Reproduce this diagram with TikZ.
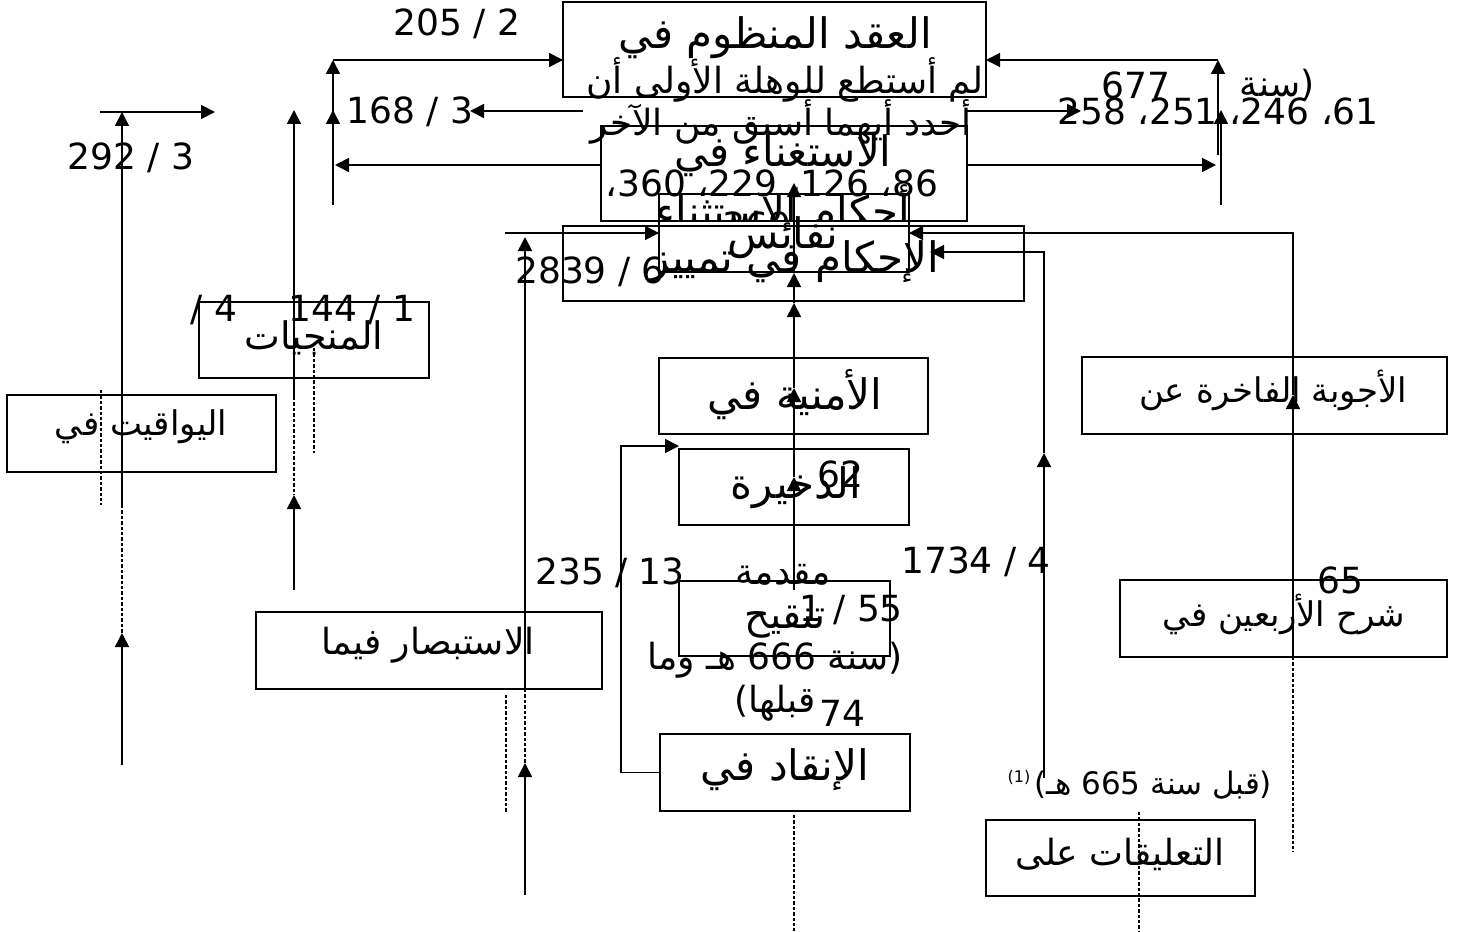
\documentclass[tikz,border=0pt]{standalone}
\usepackage{fontspec}
\setmainfont{DejaVu Sans}
\newfontfamily\arfont[Script=Arabic]{DejaVu Sans}
\TeXXeTstate=1
\usetikzlibrary{arrows.meta}
\newcommand{\AR}[1]{{\arfont\beginR #1\endR}}
\begin{document}
\begin{tikzpicture}[x=0.5pt,y=-0.5pt,
  box/.style={draw,line width=0.9pt,inner sep=0pt,outer sep=0pt},
  lbl/.style={inner sep=0pt,font=\fontsize{18}{21}\selectfont},
  ttl/.style={inner sep=0pt,font=\fontsize{21}{24}\selectfont},
  fs/.style={inner sep=0pt,font=\fontsize{#1}{#1}\selectfont},
  arr/.style={line width=0.85pt,-{Triangle[length=7pt,width=7pt]}},
  dsh/.style={line width=0.85pt,dash pattern=on 1.7pt off 1pt}]
\fill[white] (0,0) rectangle (1466,931);
\useasboundingbox (0,0) rectangle (1466,931);

% boxes
\node[box,minimum width=211.5pt,minimum height=47.5pt] (b1) at (774.5,49.5) {};
\node[box,minimum width=183pt,minimum height=47.5pt] (b2) at (784,173.5) {};
\node[box,minimum width=125pt,minimum height=39pt] (b3) at (784,233) {};
\node[box,minimum width=230.5pt,minimum height=37.5pt] (b4) at (793.5,263.5) {};
\node[box,minimum width=115pt,minimum height=38pt] (b5) at (314,340) {};
\node[box,minimum width=134.5pt,minimum height=38.5pt] (b6) at (141.5,433.5) {};
\node[box,minimum width=173pt,minimum height=38.5pt] (b7) at (429,650.5) {};
\node[box,minimum width=134.5pt,minimum height=38pt] (b8) at (793.5,396) {};
\node[box,minimum width=115pt,minimum height=38pt] (b9) at (794,487) {};
\node[box,minimum width=105.5pt,minimum height=37.5pt] (b10) at (784.5,618.5) {};
\node[box,minimum width=125pt,minimum height=38.5pt] (b11) at (785,772.5) {};
\node[box,minimum width=134.5pt,minimum height=38pt] (b12) at (1120.5,858) {};
\node[box,minimum width=182.5pt,minimum height=38.5pt] (b13) at (1264.5,395.5) {};
\node[box,minimum width=163.5pt,minimum height=38.5pt] (b14) at (1283.5,618.5) {};

% texts
\node[lbl] (t205) at (457,24) {205 / 2};
\node[ttl] (tb1) at (775,38) {\AR{العقد المنظوم في}};
\node[lbl] (tn1) at (785,80) {\AR{لم أستطع للوهلة الأولى أن}};
\node[lbl] (tn2) at (781,122) {\AR{أحدد أيهما أسبق من الآخر}};
\node[lbl] (t168) at (410,112) {168 / 3};
\node[lbl] (t292) at (131,158) {292 / 3};
\node[lbl] (t677) at (1136,85) {677};
\node[lbl] (tsana) at (1277,85) {\AR{سنة})};
\node[lbl] (tnums) at (1218,111) {\AR{61، 246، 251، 258}};
\node[ttl] (tb2) at (783,156) {\AR{الاستغناء في}};
\node[lbl] (tnums2) at (772,183) {\AR{86، 126، 229، 360،}};
\begin{scope}
  \clip (b2.north west) rectangle (b2.south east);
  \node[ttl,anchor=base] (tb2b) at (783,226) {\AR{أحكام الاستثناء}};
\end{scope}
\begin{scope}
  \clip (700,150) rectangle (830,221);
  \node[lbl,anchor=base] (t369) at (757,238) {369};
\end{scope}
\node[ttl] (tb3) at (783,238) {\AR{نفائس}};
\node[ttl] (tb4) at (794,262) {\AR{الإحكام في تمييز}};
\node[lbl] (t2839) at (590,272) {2839 / 6};
\node[lbl] (t4) at (214,310) {/ 4};
\node[lbl] (t144) at (352,310) {144 / 1};
\node[fs=19] (tb5) at (314,338) {\AR{المنجيات}};
\node[fs=17] (tb6) at (141,427) {\AR{اليواقيت في}};
\node[ttl] (tb8) at (795,395) {\AR{الأمنية في}};
\node[fs=17] (tb13) at (1273,390) {\AR{الأجوبة الفاخرة عن}};
\node[ttl] (tb9) at (796,488) {\AR{الذخيرة}};
\node[lbl] (t62) at (840,474) {62};
\node[lbl] (t235) at (610,573) {235 / 13};
\node[lbl] (tmuq) at (783,575) {\AR{مقدمة}};
\node[lbl] (t155) at (851,610) {1 / 55};
\node[fs=20] (tb10) at (785,622) {\AR{تنقيح}};
\node[lbl] (t1734) at (976,562) {1734 / 4};
\node[lbl] (t65) at (1340,580) {65};
\node[fs=17] (tb14) at (1284,614) {\AR{شرح الأربعين في}};
\node[fs=18] (tb7) at (428,645) {\AR{الاستبصار فيما}};
\node[lbl] (t666) at (775,660) {\AR{سنة 666 هـ وما})};
\node[lbl] (tqb) at (775,703) {(\AR{قبلها}};
\node[lbl] (t74) at (842,713) {74};
\node[ttl] (tb11) at (785,770) {\AR{الإنقاد في}};
\node[fs=15.5] (t665) at (1153,785) {(\AR{قبل سنة 665 هـ})};
\node[fs=8] (tsup) at (1019,777) {(1)};
\node[fs=18] (tb12) at (1120,854) {\AR{التعليقات على}};

% connectors: top left
\coordinate (L1) at (333,205);
\coordinate (L1t) at (333,60);
\coordinate (L1m) at (333,110);
\draw[arr] (L1) -- (L1t);
\draw[arr] (L1t) -- (L1t -| b1.west);
\draw[arr] (L1) -- (L1m);
% top right
\coordinate (R1) at (1218,155);
\coordinate (R1t) at (1218,60);
\coordinate (R2) at (1221,205);
\coordinate (R2t) at (1221,110);
\draw[arr] (R1) -- (R1t);
\draw[arr] (R1t) -- (R1t -| b1.east);
\draw[arr] (R2) -- (R2t);
% y=111
\coordinate (A1s) at (583,111);
\coordinate (A1e) at (470,111);
\coordinate (A2s) at (966,111);
\coordinate (A2e) at (1081,111);
\draw[arr] (A1s) -- (A1e);
\draw[arr] (A2s) -- (A2e);
% y=165
\coordinate (A3) at (335,165);
\coordinate (A4) at (1216,165);
\draw[arr] (A3 -| b2.west) -- (A3);
\draw[arr] (A4 -| b2.east) -- (A4);
% x=122
\coordinate (K1) at (100,112);
\coordinate (K2) at (215,112);
\coordinate (K3) at (122,112);
\coordinate (K4) at (122,505);
\coordinate (K5) at (122,633);
\coordinate (K6) at (122,765);
\coordinate (K7) at (101,390);
\coordinate (K8) at (101,505);
\draw[arr] (K1) -- (K2);
\draw[arr] (K4) -- (K3);
\draw[dsh] (K4) -- (K5);
\draw[arr] (K6) -- (K5);
\draw[dsh] (K7) -- (K8);
% x=294
\coordinate (M1) at (294,110);
\coordinate (M2) at (294,397);
\coordinate (M3) at (294,495);
\coordinate (M4) at (294,590);
\coordinate (M5) at (314,348);
\coordinate (M6) at (314,453);
\draw[arr] (M2) -- (M1);
\draw[dsh] (M2) -- (M3);
\draw[arr] (M4) -- (M3);
\draw[dsh] (M5) -- (M6);
% x=525
\coordinate (N0) at (505,233);
\coordinate (N1) at (525,237);
\coordinate (N2) at (525,689);
\coordinate (N3) at (525,763);
\coordinate (N4) at (525,895);
\coordinate (N5) at (506,695);
\coordinate (N6) at (506,812);
\draw[arr] (N0) -- (N0 -| b3.west);
\draw[arr] (N2) -- (N1);
\draw[dsh] (N2) -- (N3);
\draw[arr] (N4) -- (N3);
\draw[dsh] (N5) -- (N6);
% centre x=794
\coordinate (C0) at (794,590);
\coordinate (C1) at (794,477);
\coordinate (C2) at (794,388);
\coordinate (C3) at (794,303);
\coordinate (C4) at (794,273);
\coordinate (C5) at (794,183);
\coordinate (C6) at (794,815);
\coordinate (C7) at (794,931);
\draw[arr] (C0) -- (C1);
\draw[arr] (C1) -- (C2);
\draw[arr] (C2) -- (C3);
\draw[arr] (C3) -- (C4);
\draw[arr] (C4) -- (C5);
\draw[dsh] (C6) -- (C7);
% loop from b11 to b9
\coordinate (Q1) at (621,446);
\draw[arr] (b11.west) -| (Q1) -- (Q1 -| b9.west);
% x=1044
\coordinate (E1) at (1044,778);
\coordinate (E2) at (1044,453);
\coordinate (E3) at (1044,252);
\coordinate (E4) at (930,252);
\draw[arr] (E1) -- (E2);
\draw[arr] (E2) -- (E3) -- (E4);
% x=1293
\coordinate (F1) at (1293,657);
\coordinate (F2) at (1293,395);
\coordinate (F3) at (1293,233);
\coordinate (F4) at (1293,852);
\draw[arr] (F1) -- (F2);
\draw[arr] (F2) -- (F3) -- (F3 -| b3.east);
\draw[dsh] (F1) -- (F4);
% x=1139
\coordinate (G1) at (1139,812);
\coordinate (G2) at (1139,931);
\draw[dsh] (G1) -- (G2);
\end{tikzpicture}
\end{document}
